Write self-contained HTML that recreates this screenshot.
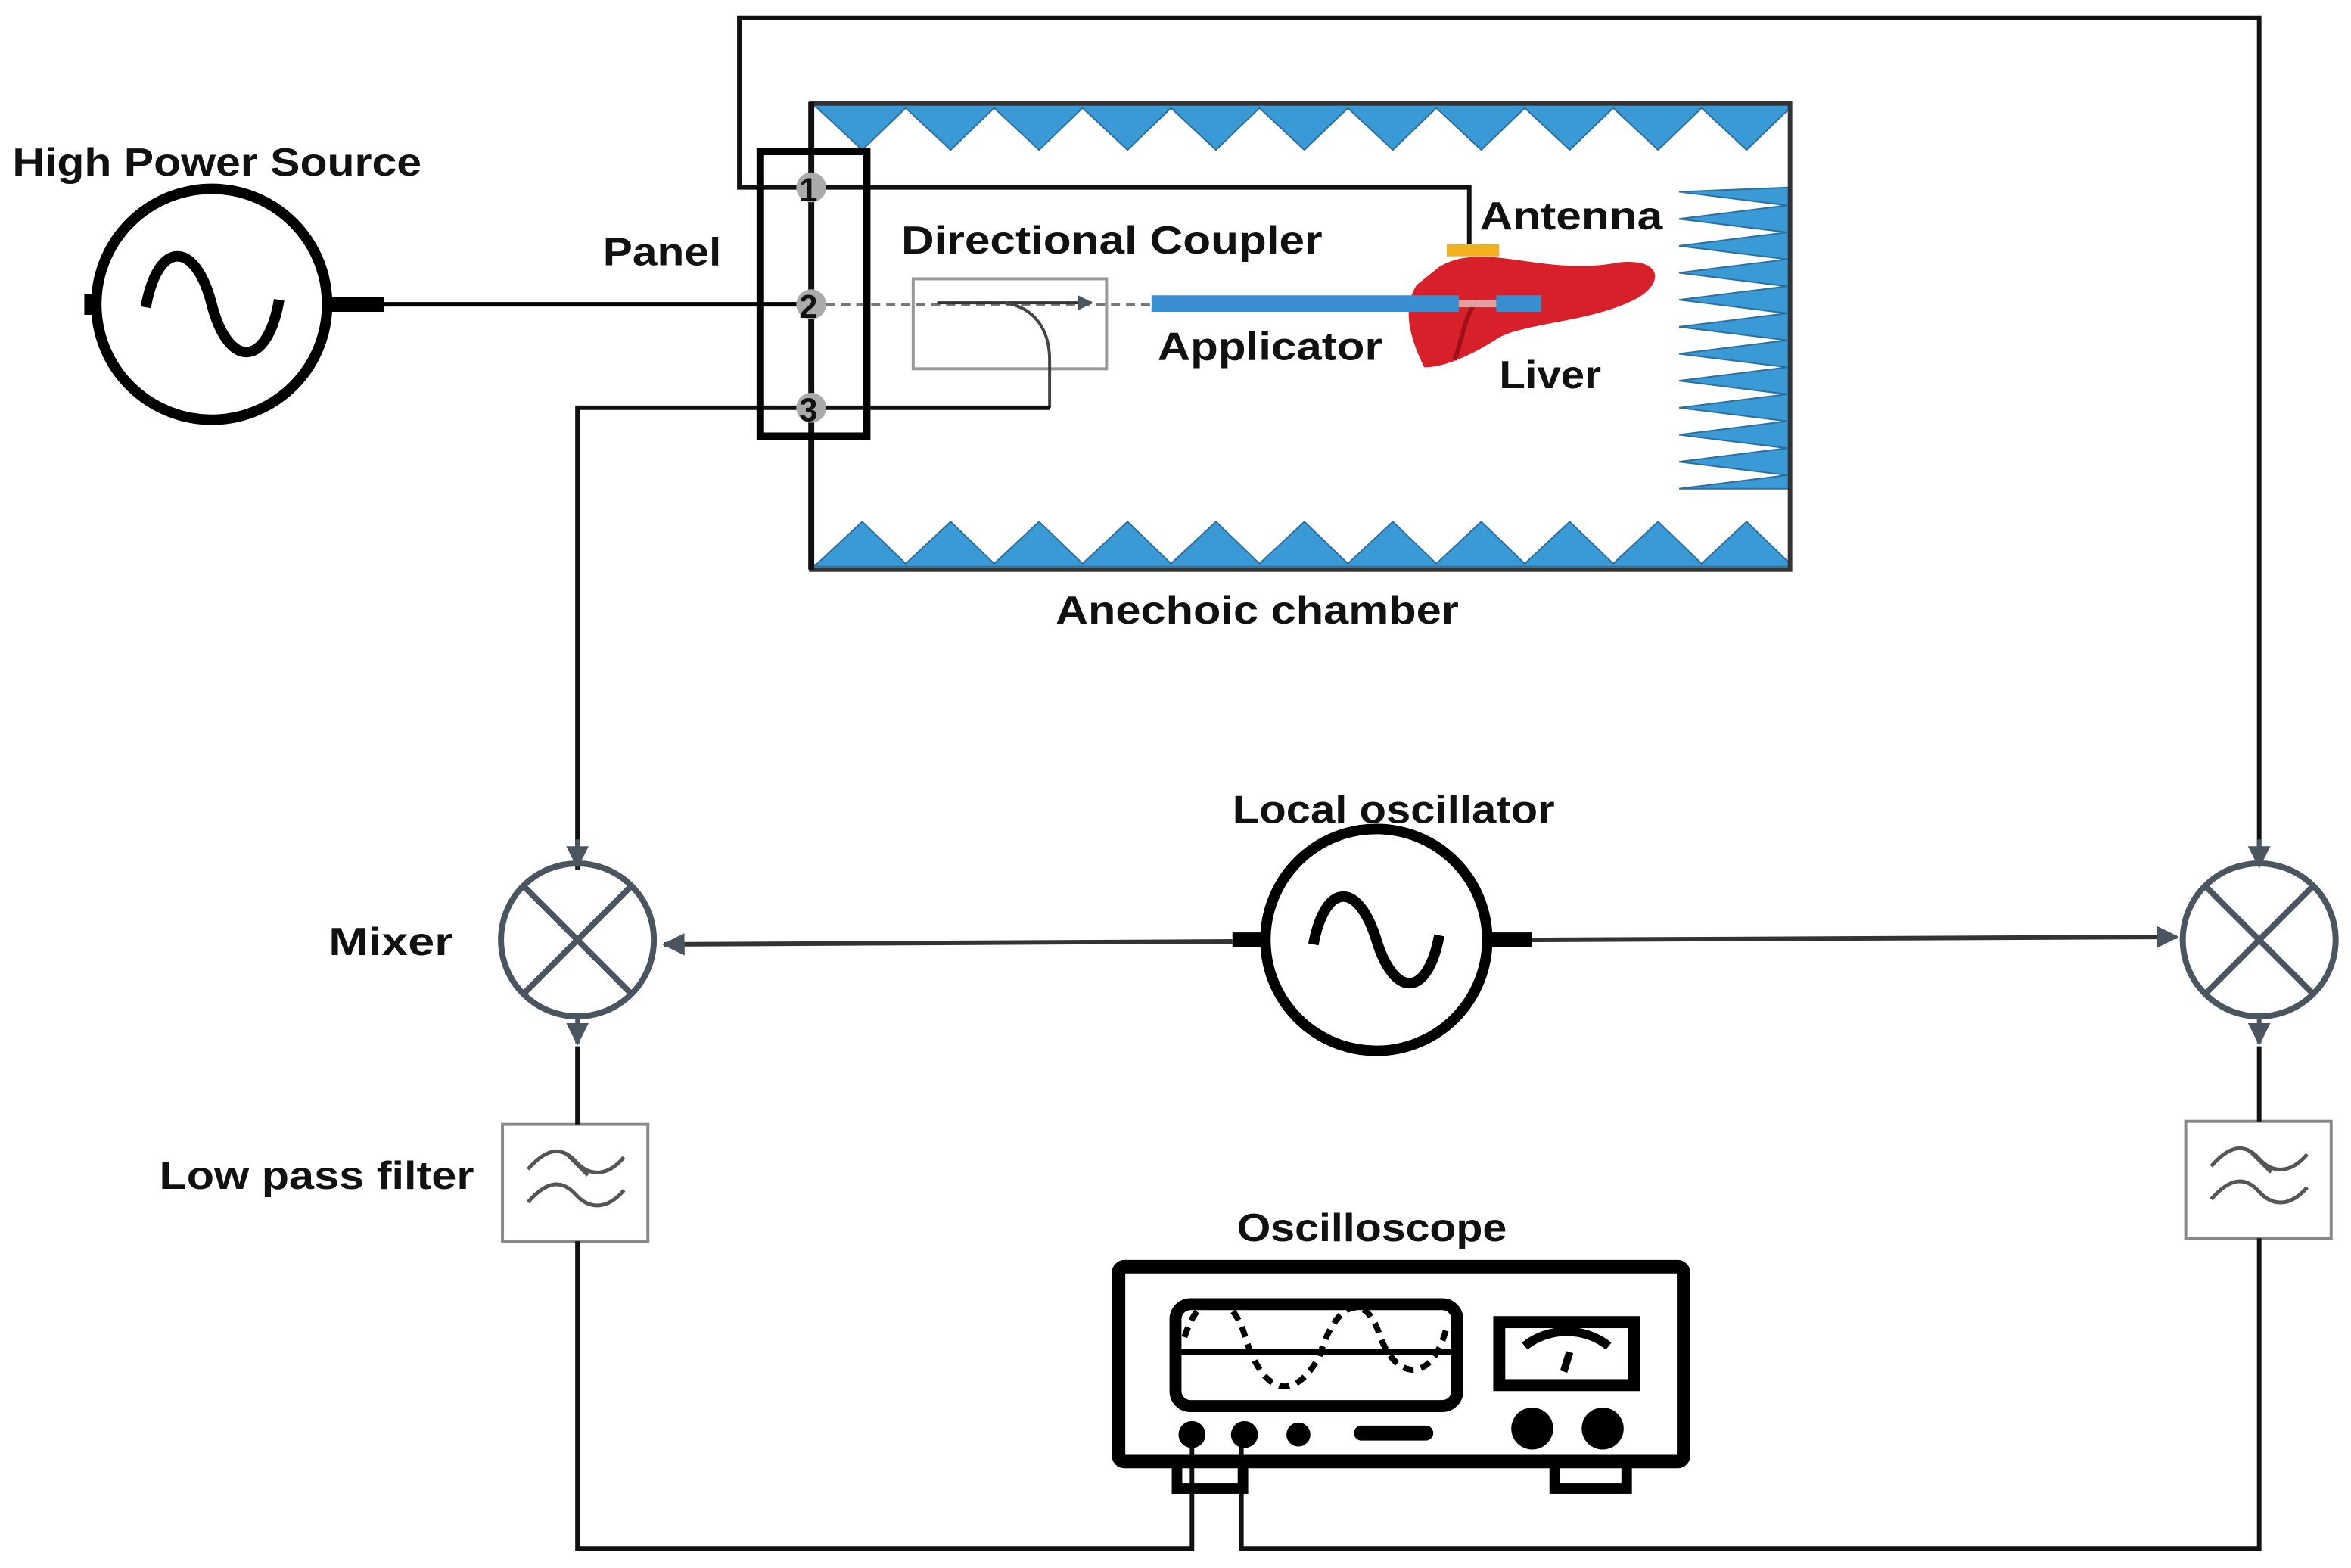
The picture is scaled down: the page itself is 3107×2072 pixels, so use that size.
<!DOCTYPE html>
<html><head><meta charset="utf-8"><style>html,body{margin:0;padding:0;background:#fff}svg{display:block}text{font-family:"Liberation Sans",sans-serif;font-weight:bold;font-size:26px;fill:#111}</style></head>
<body>
<svg width="3107" height="2072" viewBox="0 0 1568 1046" xmlns="http://www.w3.org/2000/svg">
<defs>
<marker id="ar" viewBox="0 0 10 10" refX="9" refY="5" markerWidth="5" markerHeight="5" orient="auto"><path d="M0,0L10,5L0,10z" fill="#4a5560"/></marker>
</defs>
<rect width="1568" height="1046" fill="#fff"/>
<g fill="#3a9ad6" stroke="#2a6f9e" stroke-width="1">
<path d="M541,70 L1194,70 L1194,72 L1165,100 L1135,72 L1106,100 L1076,72 L1047,100 L1017,72 L988,100 L958,72 L929,100 L899,72 L870,100 L840,72 L811,100 L781,72 L752,100 L722,72 L693,100 L663,72 L634,100 L604,72 L575,100 L545,72 Z"/>
<path d="M541,378 L1194,378 L1194,376 L1165,348 L1135,376 L1106,348 L1076,376 L1047,348 L1017,376 L988,348 L958,376 L929,348 L899,376 L870,348 L840,376 L811,348 L781,376 L752,348 L722,376 L693,348 L663,376 L634,348 L604,376 L575,348 L545,376 Z"/>
<path d="M1194,125 L1194,326 L1120,326 L1192,317 L1120,308 L1192,299 L1120,290 L1192,281 L1120,272 L1192,263 L1120,254 L1192,245 L1120,236 L1192,227 L1120,218 L1192,209 L1120,200 L1192,191 L1120,182 L1192,173 L1120,164 L1192,155 L1120,146 L1192,137 L1120,128 Z"/>
</g>
<rect x="541" y="69" width="653" height="311" fill="none" stroke="#333" stroke-width="3"/>
<line x1="541" y1="68" x2="541" y2="380" stroke="#111" stroke-width="4"/>
<polyline points="980,165 980,125 493,125 493,12 1507,12 1507,578" fill="none" stroke="#111" stroke-width="3"/>
<line x1="1507" y1="560" x2="1507" y2="578" stroke="#4a5560" stroke-width="3" marker-end="url(#ar)"/>
<rect x="965" y="163" width="35" height="8" fill="#f0b020"/>
<circle cx="141" cy="203" r="77" fill="none" stroke="#000" stroke-width="7"/>
<path d="M97,205 C105,160 130,160 141,203 C152,246 178,246 186,200" fill="none" stroke="#000" stroke-width="7"/>
<line x1="218" y1="203" x2="541" y2="203" stroke="#000" stroke-width="3"/>
<rect x="218" y="198" width="38" height="10" fill="#000"/>
<rect x="56" y="196" width="6" height="14" fill="#000"/>
<line x1="541" y1="203" x2="768" y2="203" stroke="#777" stroke-width="2" stroke-dasharray="6,4"/>
<rect x="609" y="186" width="129" height="60" fill="none" stroke="#999" stroke-width="2"/>
<line x1="625" y1="202" x2="728" y2="202" stroke="#333" stroke-width="2" marker-end="url(#ar)"/>
<path d="M670,202 C690,205 700,220 700,240 L700,272" fill="none" stroke="#444" stroke-width="2"/>
<polyline points="700,272 385,272 385,580" fill="none" stroke="#111" stroke-width="3"/>
<line x1="385" y1="560" x2="385" y2="578" stroke="#4a5560" stroke-width="3" marker-end="url(#ar)"/>
<path d="M960,178 C990,160 1030,185 1080,175 C1110,172 1110,190 1090,200 C1060,215 1020,215 1000,225 C985,235 965,245 950,245 C940,225 935,205 945,190 Z" fill="#d8202a"/>
<path d="M985,200 C975,215 975,230 970,240" fill="none" stroke="#a01018" stroke-width="3"/>
<rect x="768" y="197" width="205" height="11" fill="#3a8fd0"/>
<rect x="973" y="200" width="25" height="5" fill="#e0a0a0"/>
<rect x="998" y="197" width="30" height="11" fill="#3a8fd0"/>
<rect x="507" y="101" width="71" height="190" fill="none" stroke="#000" stroke-width="5"/>
<g fill="#aaa"><circle cx="541" cy="125" r="10"/><circle cx="541" cy="203" r="10"/><circle cx="541" cy="272" r="10"/></g>
<text x="533" y="134" style="font-size:22px">1</text>
<text x="533" y="212" style="font-size:22px">2</text>
<text x="533" y="281" style="font-size:22px">3</text>
<text x="8" y="117" textLength="273" lengthAdjust="spacingAndGlyphs">High Power Source</text>
<text x="402" y="177" textLength="79" lengthAdjust="spacingAndGlyphs">Panel</text>
<text x="601" y="169" textLength="281" lengthAdjust="spacingAndGlyphs">Directional Coupler</text>
<text x="987" y="153" textLength="122" lengthAdjust="spacingAndGlyphs">Antenna</text>
<text x="772" y="240" textLength="150" lengthAdjust="spacingAndGlyphs">Applicator</text>
<text x="1000" y="259" textLength="68" lengthAdjust="spacingAndGlyphs">Liver</text>
<text x="704" y="416" textLength="269" lengthAdjust="spacingAndGlyphs">Anechoic chamber</text>
<text x="822" y="549" textLength="215" lengthAdjust="spacingAndGlyphs">Local oscillator</text>
<text x="219" y="637" textLength="83" lengthAdjust="spacingAndGlyphs">Mixer</text>
<text x="106" y="793" textLength="210" lengthAdjust="spacingAndGlyphs">Low pass filter</text>
<text x="825" y="828" textLength="180" lengthAdjust="spacingAndGlyphs">Oscilloscope</text>
<g fill="none" stroke="#4a5560" stroke-width="4">
<circle cx="385" cy="627" r="51"/><line x1="349" y1="591" x2="421" y2="663"/><line x1="421" y1="591" x2="349" y2="663"/>
<circle cx="1507" cy="627" r="51"/><line x1="1471" y1="591" x2="1543" y2="663"/><line x1="1543" y1="591" x2="1471" y2="663"/>
</g>
<circle cx="918" cy="627" r="74" fill="none" stroke="#000" stroke-width="7"/>
<path d="M876,630 C884,588 906,588 918,627 C930,666 952,666 960,624" fill="none" stroke="#000" stroke-width="7"/>
<rect x="822" y="622" width="22" height="10" fill="#000"/>
<rect x="992" y="622" width="30" height="10" fill="#000"/>
<line x1="822" y1="628" x2="443" y2="630" stroke="#333" stroke-width="3" marker-end="url(#ar)"/>
<line x1="1022" y1="627" x2="1452" y2="625" stroke="#333" stroke-width="3" marker-end="url(#ar)"/>
<line x1="385" y1="678" x2="385" y2="696" stroke="#4a5560" stroke-width="3" marker-end="url(#ar)"/>
<line x1="1507" y1="678" x2="1507" y2="696" stroke="#4a5560" stroke-width="3" marker-end="url(#ar)"/>
<g fill="none" stroke="#888" stroke-width="2">
<rect x="335" y="750" width="97" height="78"/>
<rect x="1458" y="748" width="97" height="78"/>
</g>
<g fill="none" stroke="#555" stroke-width="2.5">
<path d="M352,780 C365,765 375,765 384,775 C393,785 405,785 416,772"/>
<path d="M352,802 C365,787 375,787 384,797 C393,807 405,807 416,794"/>
<line x1="378" y1="770" x2="392" y2="784"/>
<path d="M1475,778 C1488,763 1498,763 1507,773 C1516,783 1528,783 1539,770"/>
<path d="M1475,800 C1488,785 1498,785 1507,795 C1516,805 1528,805 1539,792"/>
<line x1="1501" y1="768" x2="1515" y2="782"/>
</g>
<polyline points="385,698 385,750" fill="none" stroke="#111" stroke-width="3"/>
<polyline points="1507,698 1507,748" fill="none" stroke="#111" stroke-width="3"/>
<polyline points="385,828 385,1033 795,1033 795,958" fill="none" stroke="#111" stroke-width="3"/>
<polyline points="1507,826 1507,1033 828,1033 828,958" fill="none" stroke="#111" stroke-width="3"/>
<rect x="746" y="845" width="377" height="130" rx="4" fill="none" stroke="#000" stroke-width="9"/>
<rect x="784" y="870" width="188" height="68" rx="10" fill="none" stroke="#000" stroke-width="8"/>
<line x1="788" y1="902" x2="968" y2="902" stroke="#000" stroke-width="4"/>
<path d="M790,892 C800,860 820,860 830,890 C840,925 860,940 880,905 C890,870 910,860 920,890 C930,920 955,925 965,885" fill="none" stroke="#000" stroke-width="4" stroke-dasharray="7,5"/>
<rect x="1000" y="882" width="90" height="42" fill="none" stroke="#000" stroke-width="8"/>
<path d="M1017,898 C1033,885 1057,885 1073,898" fill="none" stroke="#000" stroke-width="6"/>
<line x1="1047" y1="902" x2="1043" y2="915" stroke="#000" stroke-width="5"/>
<g fill="#000"><circle cx="795" cy="957" r="9"/><circle cx="830" cy="957" r="9"/><circle cx="866" cy="957" r="8"/><circle cx="1022" cy="953" r="14"/><circle cx="1069" cy="953" r="14"/></g>
<rect x="903" y="951" width="53" height="10" rx="5" fill="#000"/>
<rect x="785" y="975" width="44" height="18" fill="none" stroke="#000" stroke-width="7"/>
<rect x="1037" y="975" width="48" height="18" fill="none" stroke="#000" stroke-width="7"/>
</svg>
</body></html>
